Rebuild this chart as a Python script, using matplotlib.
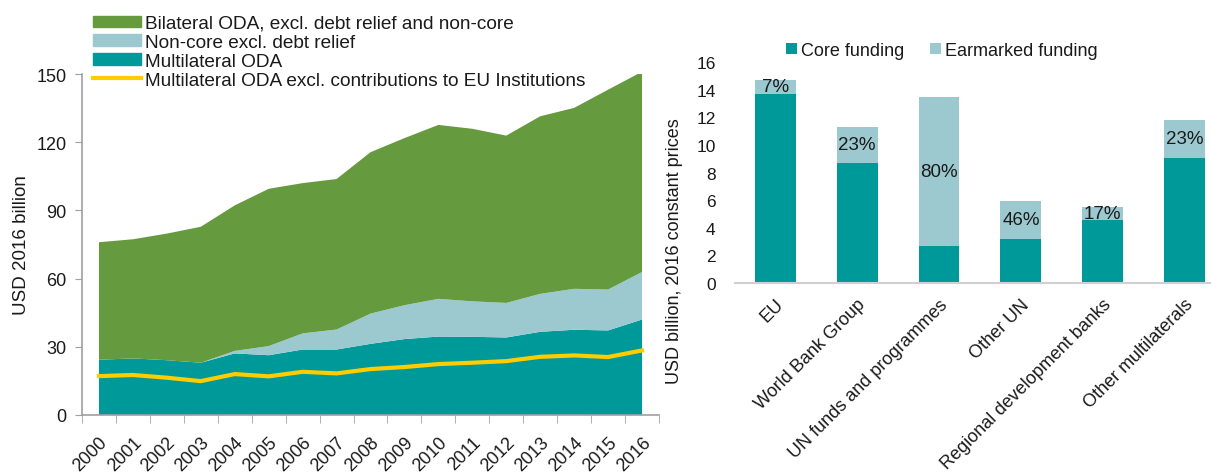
import matplotlib
matplotlib.use("Agg")
import matplotlib.pyplot as plt
import numpy as np
from matplotlib.patches import Patch
from matplotlib.lines import Line2D

plt.rcParams['font.family'] = ['Liberation Sans', 'DejaVu Sans']

# ---------------- Data ----------------
years = [str(y) for y in range(2000, 2017)]
multilateral = [24.3, 24.9, 24.1, 23.0, 27.1, 26.3, 28.8, 28.8, 31.3, 33.4, 34.5, 34.4, 34.1, 36.6, 37.5, 37.2, 42.0]
noncore = [0.0, 0.0, 0.0, 0.0, 1.1, 4.0, 7.1, 8.8, 13.3, 14.9, 16.6, 15.6, 15.2, 16.7, 18.0, 18.0, 20.9]
bilateral = [51.7, 52.4, 55.7, 59.8, 64.0, 69.2, 66.1, 66.2, 71.0, 73.5, 76.5, 75.9, 73.6, 78.1, 79.6, 87.9, 88.1]
multi_excl_eu = [17.1, 17.6, 16.4, 14.9, 18.0, 17.0, 19.0, 18.3, 20.2, 21.1, 22.4, 23.0, 23.7, 25.6, 26.2, 25.5, 28.4]

orgs = ["EU", "World Bank Group", "UN funds and programmes", "Other UN",
        "Regional development banks", "Other multilaterals"]
core = [13.70, 8.72, 2.68, 3.21, 4.55, 9.08]
earmarked = [1.03, 2.60, 10.76, 2.71, 0.95, 2.74]
pct_labels = ["7%", "23%", "80%", "46%", "17%", "23%"]

TEAL = "#009999"
LIGHT = "#9CC9D0"
GREEN = "#669A3F"
YELLOW = "#FFCC00"
TXT = "#1a1a1a"

fig = plt.figure(figsize=(12.11, 4.77), dpi=100)

# ---------------- Left chart ----------------
ax1 = fig.add_axes([82/1211, 1-416/477, (659-82)/1211, (416-75)/477])
x = np.arange(len(years))
ax1.stackplot(x, multilateral, noncore, bilateral, colors=[TEAL, LIGHT, GREEN], linewidth=0)
ax1.plot(x, multi_excl_eu, color=YELLOW, lw=3, solid_joinstyle='round')
ax1.set_xlim(-0.5, len(years)-0.5)
ax1.set_ylim(0, 150)
ax1.set_yticks(np.arange(0, 151, 30))
ax1.tick_params(axis='y', labelsize=13, length=5, color="#A0A0A0", pad=6)
for t in ax1.get_yticklabels():
    t.set_color(TXT)
ax1.set_xticks(x)
ax1.set_xticklabels(years, rotation=45, ha='right', rotation_mode='anchor', fontsize=13, color=TXT)
ax1.tick_params(axis='x', which='major', length=0, pad=13)
ax1.set_xticks(np.arange(-0.5, len(years), 1.0), minor=True)
ax1.tick_params(axis='x', which='minor', length=6, color="#A0A0A0")
for s in ['top', 'right']:
    ax1.spines[s].set_visible(False)
for s in ['left', 'bottom']:
    ax1.spines[s].set_color("#A0A0A0")
    ax1.spines[s].set_linewidth(1.2)
ax1.set_ylabel("USD 2016 billion", fontsize=13.5, color=TXT, labelpad=5)

handles1 = [Patch(color=GREEN), Patch(color=LIGHT), Patch(color=TEAL),
            Line2D([0], [0], color=YELLOW, lw=3)]
labels1 = ["Bilateral ODA, excl. debt relief and non-core", "Non-core excl. debt relief",
           "Multilateral ODA", "Multilateral ODA excl. contributions to EU Institutions"]
fig.legend(handles1, labels1, loc='upper left', bbox_to_anchor=(93/1211, 1-16/477),
           frameon=False, fontsize=13.7, borderpad=0, borderaxespad=0, labelspacing=0.1,
           handlelength=2.5, handleheight=0.55, handletextpad=0.25, labelcolor=TXT)

# ---------------- Right chart ----------------
ax2 = fig.add_axes([735/1211, 1-284/477, 1-735/1211, (284-63)/477])
xb = np.arange(len(orgs))
ax2.bar(xb, core, width=0.5, color=TEAL, label="Core funding")
ax2.bar(xb, earmarked, width=0.5, bottom=core, color=LIGHT, label="Earmarked funding")
for i in range(len(orgs)):
    ax2.text(xb[i], core[i] + earmarked[i]/2, pct_labels[i], ha='center', va='center',
             fontsize=13.5, color=TXT)
ax2.set_xlim(-0.49, 5.32)
ax2.set_ylim(0, 16)
ax2.set_yticks(np.arange(0, 17, 2))
ax2.tick_params(axis='y', length=0, labelsize=12.5, pad=14)
for t in ax2.get_yticklabels():
    t.set_color(TXT)
ax2.set_xticks(xb)
ax2.set_xticklabels(orgs, rotation=45, ha='right', rotation_mode='anchor', fontsize=13, color=TXT)
ax2.tick_params(axis='x', length=0, pad=9)
for s in ['top', 'right', 'left']:
    ax2.spines[s].set_visible(False)
ax2.spines['bottom'].set_color("#D0D0D0")
ax2.spines['bottom'].set_linewidth(1.5)
ax2.set_ylabel("USD billion, 2016 constant prices", fontsize=13, color=TXT)
ax2.yaxis.set_label_coords((683-735)/476, (284-251)/221)
ax2.legend(loc='upper left', bbox_to_anchor=(786/1211, 1-43/477), bbox_transform=fig.transFigure,
           ncol=2, frameon=False, fontsize=13, borderpad=0, borderaxespad=0,
           handlelength=0.6, handleheight=0.6, handletextpad=0.25, columnspacing=1.4,
           labelcolor=TXT)

fig.savefig("out.png", dpi=100)
